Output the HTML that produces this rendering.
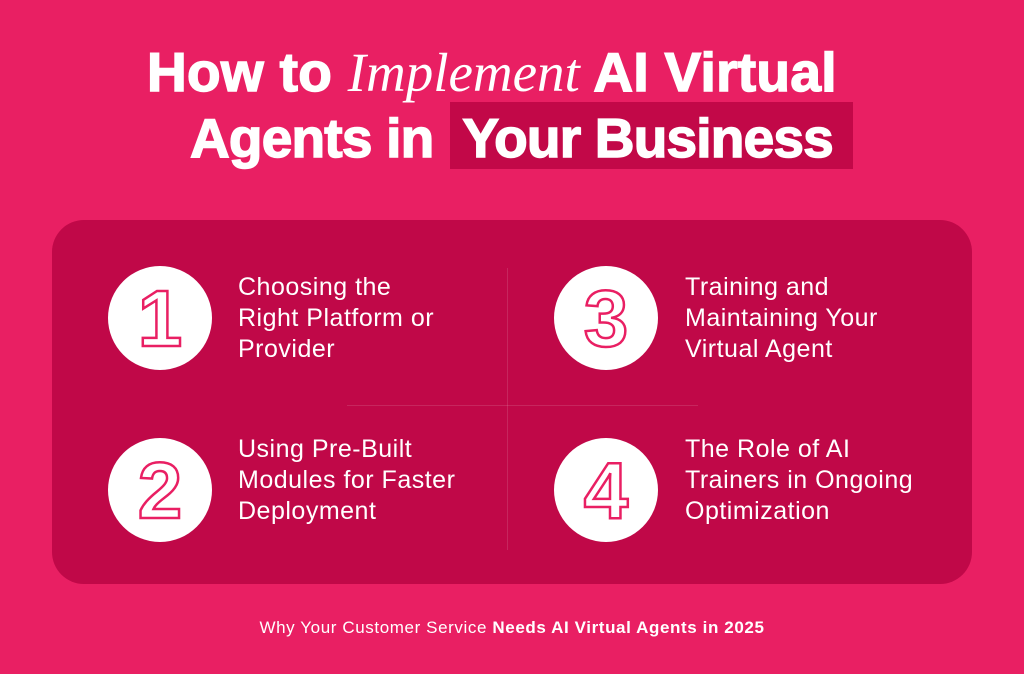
<!DOCTYPE html>
<html><head><style>
body{margin:0;width:1024px;height:674px;background:#E91F63;overflow:hidden;position:relative;font-family:"Liberation Sans",sans-serif;color:#fff}
.t{position:absolute;font-weight:bold;font-size:55px;letter-spacing:0px;white-space:nowrap;-webkit-text-stroke:1.5px #fff}
.hl{position:absolute;left:450px;top:102px;width:403px;height:67px;background:#C20848}
.panel{position:absolute;left:52px;top:220px;width:920px;height:364px;background:#C00848;border-radius:32px}
.c{position:absolute;width:104px;height:104px;border-radius:50%;background:#fff}
.c svg{width:104px;height:104px}
.tx{position:absolute;font-size:25px;line-height:31px;letter-spacing:0.5px}
.ln{position:absolute;background:rgba(255,255,255,0.12)}
.f{position:absolute;top:618px;width:1024px;text-align:center;font-size:17px;letter-spacing:0.6px}
</style></head><body>
<div class="hl"></div>
<div class="t" style="left:147px;top:40px;letter-spacing:0.3px">How to <span style="font-family:'Liberation Serif',serif;font-style:italic;font-weight:normal;letter-spacing:0;-webkit-text-stroke:0">Implement</span> AI Virtual</div>
<div class="t" style="left:190px;top:106px;letter-spacing:-0.8px">Agents in&nbsp;&nbsp;Your Business</div>
<div class="panel"></div>
<div class="ln" style="left:507px;top:268px;width:1px;height:282px"></div>
<div class="ln" style="left:347px;top:405px;width:351px;height:1px"></div>
<div class="c" style="left:108px;top:266px"><svg><text x="52" y="80" text-anchor="middle" font-size="80" font-family="Liberation Sans" font-weight="bold" fill="#fff" stroke="#E91F63" stroke-width="2.5">1</text></svg></div>
<div class="c" style="left:108px;top:438px"><svg><text x="52" y="80" text-anchor="middle" font-size="80" font-family="Liberation Sans" font-weight="bold" fill="#fff" stroke="#E91F63" stroke-width="2.5">2</text></svg></div>
<div class="c" style="left:554px;top:266px"><svg><text x="52" y="80" text-anchor="middle" font-size="80" font-family="Liberation Sans" font-weight="bold" fill="#fff" stroke="#E91F63" stroke-width="2.5">3</text></svg></div>
<div class="c" style="left:554px;top:438px"><svg><text x="52" y="80" text-anchor="middle" font-size="80" font-family="Liberation Sans" font-weight="bold" fill="#fff" stroke="#E91F63" stroke-width="2.5">4</text></svg></div>
<div class="tx" style="left:238px;top:272px">Choosing the<br>Right Platform or<br>Provider</div>
<div class="tx" style="left:238px;top:434px">Using Pre-Built<br>Modules for Faster<br>Deployment</div>
<div class="tx" style="left:685px;top:272px">Training and<br>Maintaining Your<br>Virtual Agent</div>
<div class="tx" style="left:685px;top:434px">The Role of AI<br>Trainers in Ongoing<br>Optimization</div>
<div class="f">Why Your Customer Service <b>Needs AI Virtual Agents in 2025</b></div>
</body></html>
